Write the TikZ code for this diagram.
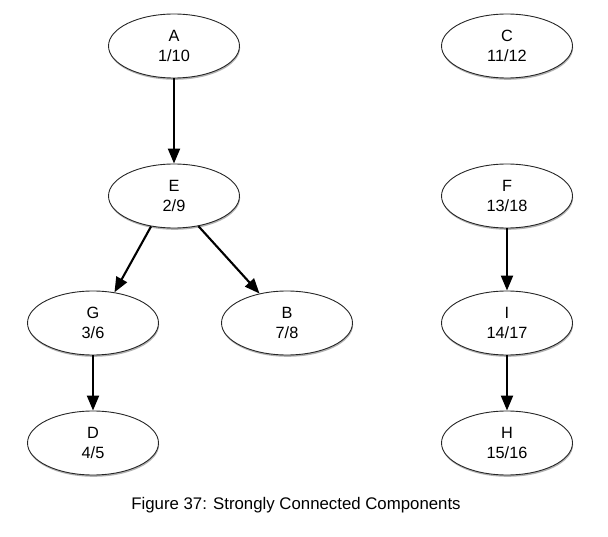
\documentclass[tikz,border=0pt]{standalone}
\usepackage{fontspec}
\setmainfont{Liberation Sans}
\usetikzlibrary{shapes.geometric,arrows.meta,shadows}
\begin{document}
\begin{tikzpicture}[x=1pt,y=-1pt,
  vert/.style={ellipse,draw=black!85,line width=0.9pt,fill=white,
    minimum width=131pt,minimum height=64pt,inner sep=0pt,align=center,
    font=\fontsize{16.3}{20}\selectfont,
    drop shadow={shadow xshift=0.6pt,shadow yshift=-1.8pt,fill=black,opacity=0.3}},
  edge/.style={line width=2.1pt,-{Triangle[length=15pt,width=12pt]}},
  captext/.style={font=\fontsize{16.8}{20}\selectfont,anchor=base}]
\useasboundingbox (0,0) rectangle (608,537);
\node[vert] (A) at (174,46) {A\\1/10};
\node[vert] (E) at (174,196) {E\\2/9};
\node[vert] (G) at (93,323) {G\\3/6};
\node[vert] (B) at (287,323) {B\\7/8};
\node[vert] (D) at (93,443) {D\\4/5};
\node[vert] (C) at (507,46) {C\\11/12};
\node[vert] (F) at (507,196) {F\\13/18};
\node[vert] (I) at (507,323) {I\\14/17};
\node[vert] (H) at (507,443) {H\\15/16};
\draw[edge] (A.south) -- (E.north);
\draw[edge] (E.233) -- (G.55);
\draw[edge] (E.309) -- (B.133);
\draw[edge] (G.south) -- (D.north);
\draw[edge] (F.south) -- (I.north);
\draw[edge] (I.south) -- (H.north);
\node[captext] (caption) at (296,509) {Figure 37: Strongly Connected Components};
\end{tikzpicture}
\end{document}
